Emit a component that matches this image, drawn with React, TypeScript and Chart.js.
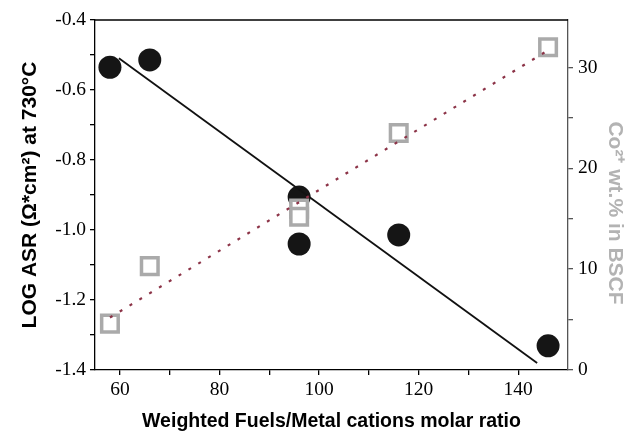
import { useEffect, useRef } from "react";
import { Chart, registerables } from "chart.js";

Chart.register(...registerables);

// Log area-specific resistance at 730 °C vs. weighted fuel / metal cation ratio
const asrRatio = [58, 66, 96, 96, 116, 146];
const logAsr = [-0.535, -0.514, -0.906, -1.04, -1.014, -1.331];

// Co2+ content in BSCF vs. the same ratio
const cobaltRatio = [58, 66, 96, 96, 116, 146];
const cobaltWt = [4.6, 10.3, 16.0, 15.2, 23.5, 32.0];

// Linear fits
const asrFitX = [59.8, 143.8];
const asrFitY = [-0.509, -1.38];
const cobaltFitX = [58, 146];
const cobaltFitY = [5.2, 31.7];

// Axis ticks (all tick marks, and the ones that carry labels)
const xTicks = [60, 70, 80, 90, 100, 110, 120, 130, 140];
const xTickLabels = [60, 80, 100, 120, 140];
const asrTicks = [-1.4, -1.3, -1.2, -1.1, -1.0, -0.9, -0.8, -0.7, -0.6, -0.5, -0.4];
const asrTickLabels = [-1.4, -1.2, -1.0, -0.8, -0.6, -0.4];
const cobaltTicks = [0, 5, 10, 15, 20, 25, 30];
const cobaltTickLabels = [0, 10, 20, 30];

const has = (list: number[], v: number) => list.some((l) => Math.abs(l - v) < 1e-6);

const pairs = (xs: number[], ys: number[]) => xs.map((x, i) => ({ x, y: ys[i] }));

const tickFont = { family: "'Liberation Serif', 'Times New Roman', serif", size: 19.5 };
const titleFamily = "'Liberation Sans', Arial, sans-serif";
const cobaltTitle = "Co²⁺ wt.% in BSCF";

// Closes the frame along the top of the plot area and writes the
// right-hand axis title, set a little below the axis centre
const frameAndRightTitle = {
  id: "frameAndRightTitle",
  afterDraw(chart: any) {
    const { ctx, chartArea } = chart;
    ctx.save();
    ctx.strokeStyle = "#000";
    ctx.lineWidth = 1.3;
    ctx.beginPath();
    ctx.moveTo(chartArea.left, chartArea.top);
    ctx.lineTo(chartArea.right, chartArea.top);
    ctx.stroke();

    const midY = (chartArea.top + chartArea.bottom) / 2 + 18;
    ctx.translate(chart.width - 17, midY);
    ctx.rotate(Math.PI / 2);
    ctx.font = `bold 21px ${titleFamily}`;
    ctx.fillStyle = "#b3b3b3";
    ctx.textAlign = "center";
    ctx.textBaseline = "middle";
    ctx.fillText(cobaltTitle, 0, 0);
    ctx.restore();
  },
};

export default function App() {
  const canvasRef = useRef<HTMLCanvasElement | null>(null);

  useEffect(() => {
    const canvas = canvasRef.current;
    if (!canvas) return;
    const chart = new Chart(canvas, {
      type: "scatter",
      data: {
        datasets: [
          {
            label: "Co fit",
            data: pairs(cobaltFitX, cobaltFitY),
            yAxisID: "y2",
            showLine: true,
            borderColor: "#8c3347",
            borderWidth: 2.2,
            borderDash: [3, 8.5],
            pointRadius: 0,
            order: 0,
          },
          {
            label: "Co2+ wt.%",
            data: pairs(cobaltRatio, cobaltWt),
            yAxisID: "y2",
            pointStyle: "rect",
            pointRadius: 11.7,
            borderWidth: 3.5,
            borderColor: "#aaaaaa",
            backgroundColor: "#ffffff",
            order: 1,
          },
          {
            label: "ASR fit",
            data: pairs(asrFitX, asrFitY),
            yAxisID: "y",
            showLine: true,
            borderColor: "#111111",
            borderWidth: 1.8,
            pointRadius: 0,
            order: 2,
          },
          {
            label: "LOG ASR",
            data: pairs(asrRatio, logAsr),
            yAxisID: "y",
            pointRadius: 11.5,
            borderWidth: 0,
            backgroundColor: "#151515",
            order: 3,
          },
        ],
      },
      options: {
        responsive: false,
        animation: false,
        layout: { padding: { top: 20, left: 0, right: 0, bottom: 0 } },
        plugins: { legend: { display: false }, tooltip: { enabled: false } },
        scales: {
          x: {
            type: "linear",
            min: 55,
            max: 150,
            afterBuildTicks: (s: any) => {
              s.ticks = xTicks.map((value) => ({ value }));
            },
            afterFit: (s: any) => {
              s.height = 63;
            },
            border: { display: true, color: "#000", width: 1.3 },
            grid: { drawOnChartArea: false, drawTicks: true, tickLength: 5, color: "#000", lineWidth: 1.3 },
            ticks: {
              color: "#000",
              font: tickFont,
              padding: 3,
              maxRotation: 0,
              autoSkip: false,
              callback: (v: any) => (has(xTickLabels, Number(v)) ? String(v) : ""),
            },
            title: {
              display: true,
              text: "Weighted Fuels/Metal cations molar ratio",
              color: "#000",
              font: { family: titleFamily, size: 19.5, weight: "bold" },
              padding: { top: 0, bottom: 0 },
            },
          },
          y: {
            type: "linear",
            position: "left",
            min: -1.4,
            max: -0.4,
            afterBuildTicks: (s: any) => {
              s.ticks = asrTicks.map((value) => ({ value }));
            },
            afterFit: (s: any) => {
              s.width = 95;
            },
            border: { display: true, color: "#000", width: 1.3 },
            grid: { drawOnChartArea: false, drawTicks: true, tickLength: 5, color: "#000", lineWidth: 1.3 },
            ticks: {
              color: "#000",
              font: tickFont,
              padding: 4,
              autoSkip: false,
              callback: (v: any) => (has(asrTickLabels, Number(v)) ? Number(v).toFixed(1) : ""),
            },
            title: {
              display: true,
              text: "LOG ASR (Ω*cm²) at 730°C",
              color: "#000",
              font: { family: titleFamily, size: 21, weight: "bold" },
              padding: { top: 18, bottom: 0 },
            },
          },
          y2: {
            type: "linear",
            position: "right",
            min: 0,
            max: 34.7,
            afterBuildTicks: (s: any) => {
              s.ticks = cobaltTicks.map((value) => ({ value }));
            },
            afterFit: (s: any) => {
              s.width = 64;
            },
            border: { display: true, color: "#555", width: 1.3 },
            grid: { drawOnChartArea: false, drawTicks: true, tickLength: 5, color: "#555", lineWidth: 1.3 },
            ticks: {
              color: "#000",
              font: tickFont,
              padding: 5,
              autoSkip: false,
              callback: (v: any) => (has(cobaltTickLabels, Number(v)) ? String(v) : ""),
            },
            title: { display: false },
          },
        },
      },
      plugins: [frameAndRightTitle],
    } as any);
    return () => chart.destroy();
  }, []);

  return (
    <div style={{ position: "fixed", left: 0, top: 0, width: 632, height: 433, background: "#fff" }}>
      <canvas ref={canvasRef} width={632} height={433} style={{ display: "block" }} />
    </div>
  );
}
